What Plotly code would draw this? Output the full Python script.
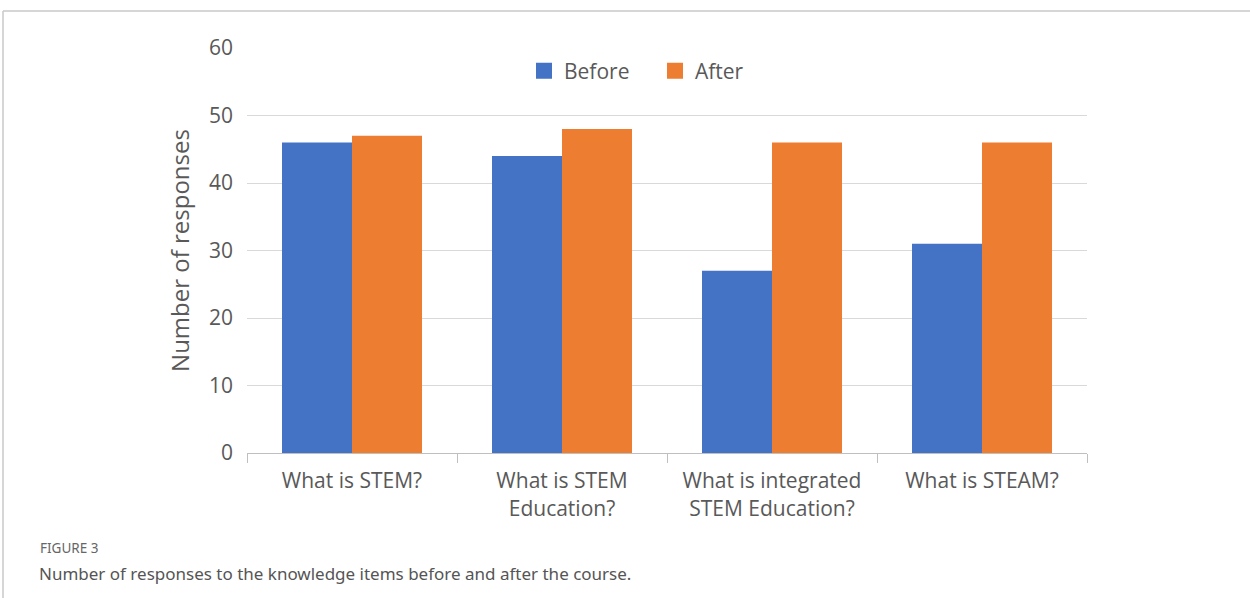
import plotly.graph_objects as go

categories = ["What is STEM?", "What is STEM<br>Education?", "What is integrated<br>STEM Education?", "What is STEAM?"]
series_names = ["Before", "After"]
before = [46, 44, 27, 31]
after = [47, 48, 46, 46]
y_ticks = [0, 10, 20, 30, 40, 50, 60]
colors = ["#4472c4", "#ed7d31"]

W, H = 1250, 598
L, R, T, B = 247, 1087, 48, 453

def px_x(x):
    return (x - L) / (R - L)

def px_y(y):
    return (B - y) / (B - T)

fig = go.Figure()
for name, vals, col in zip(series_names, [before, after], colors):
    fig.add_trace(go.Bar(name=name, x=categories, y=vals, showlegend=False,
                         marker=dict(color=col, line=dict(width=0))))
# legend entries with larger square swatches
for name, col in zip(series_names, colors):
    fig.add_trace(go.Scatter(name=name, x=[None], y=[None], mode="markers",
                             marker=dict(symbol="square", size=17, color=col), showlegend=True))

fig.update_layout(
    width=W, height=H,
    margin=dict(l=L, r=W - R, t=T, b=H - B, pad=0),
    plot_bgcolor="white", paper_bgcolor="white",
    barmode="group", bargap=1/3, bargroupgap=0,
    font=dict(family="Open Sans", color="#595959", size=21),
    showlegend=True,
    legend=dict(orientation="h", x=px_x(524), xanchor="left", y=px_y(71), yanchor="middle",
                font=dict(size=21, color="#595959"), bgcolor="rgba(0,0,0,0)", itemwidth=30,
                traceorder="normal", entrywidth=86),
    xaxis=dict(showgrid=False, ticks="outside", tickson="boundaries", ticklen=9, tickcolor="#bfbfbf",
               showline=True, linecolor="#bfbfbf", linewidth=1, ticklabelstandoff=9,
               tickfont=dict(size=21, color="#595959")),
    yaxis=dict(range=[0, 60], tickvals=y_ticks, showgrid=True, gridcolor="#d9d9d9", gridwidth=1,
               zeroline=False, showline=False, ticks="", ticklabelstandoff=13,
               tickfont=dict(size=21, color="#595959"),
               title=dict(text="Number of responses", font=dict(size=24, color="#595959"), standoff=12)),
)

# frame lines
fig.add_shape(type="line", xref="paper", yref="paper", x0=px_x(3), x1=px_x(W),
              y0=px_y(11), y1=px_y(11), line=dict(color="#c8c8c8", width=1.5))
fig.add_shape(type="line", xref="paper", yref="paper", x0=px_x(3), x1=px_x(3),
              y0=px_y(11), y1=px_y(H), line=dict(color="#c8c8c8", width=1.5))

# captions
fig.add_annotation(text="FIGURE 3", xref="paper", yref="paper", x=px_x(38), y=px_y(548),
                   xanchor="left", yanchor="middle", showarrow=False,
                   font=dict(family="Noto Sans", size=13.5, color="#666666"))
fig.add_annotation(text="Number of responses to the knowledge items before and after the course.",
                   xref="paper", yref="paper", x=px_x(37), y=px_y(573),
                   xanchor="left", yanchor="middle", showarrow=False,
                   font=dict(family="Noto Sans", size=17, color="#555555"))

fig.write_html("out.html", config={"displayModeBar": False},
               post_script="document.body.style.margin='0';")
